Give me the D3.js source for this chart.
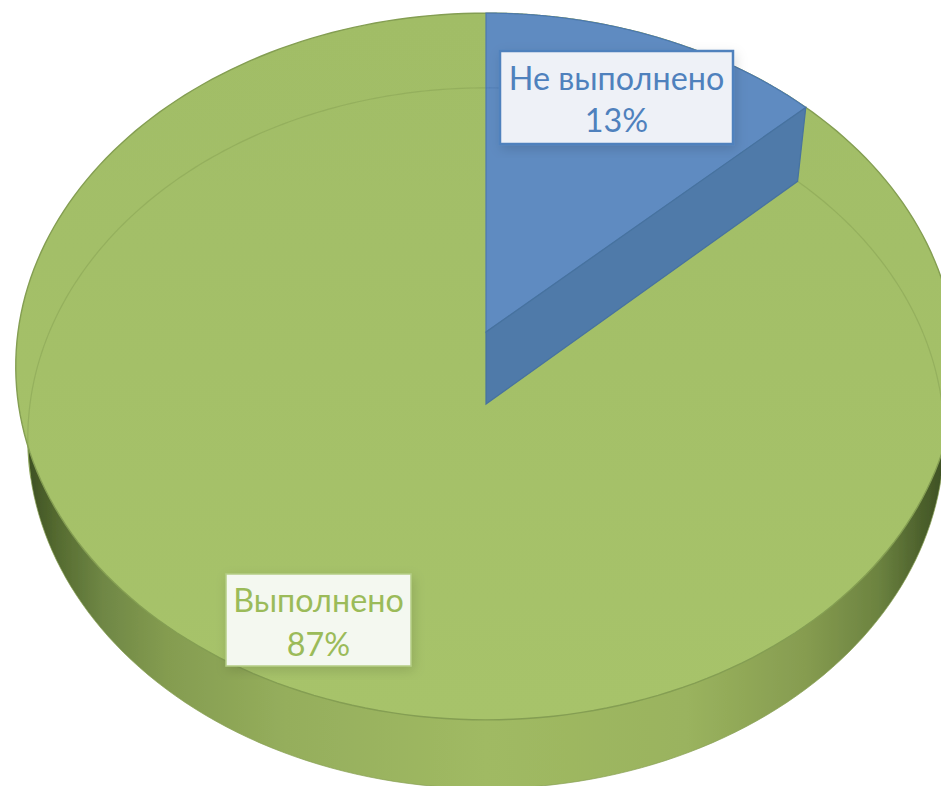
<!DOCTYPE html>
<html>
<head>
<meta charset="utf-8">
<script src="https://cdn.jsdelivr.net/npm/d3@7"></script>
<style>
  html, body { margin: 0; padding: 0; background: #fff; overflow: hidden; }
  svg { display: block; }
  text { font-family: Lato, "Open Sans", sans-serif; }
</style>
</head>
<body>
<div id="chart"></div>
<script>
const categories = ['Не выполнено', 'Выполнено'];
const values = [13, 87];
const percentLabels = ['13%', '87%'];

const width = 941;
const height = 786;
const colors = ['#5f8bc1', '#a5c168'];
const textColors = ['#4f81bd', '#9bbb59'];

const svg = d3.select('#chart').append('svg').attr('width', width).attr('height', height);
const defs = svg.append('defs');

const wall = defs.append('linearGradient').attr('id', 'wall').attr('gradientUnits', 'userSpaceOnUse')
  .attr('x1', 30).attr('x2', 942).attr('y1', 0).attr('y2', 0);
[[0, '#3f5224'], [0.03, '#556b30'], [0.08, '#6f8745'], [0.15, '#849c50'], [0.28, '#95ae5c'], [0.5, '#a0ba63'],
 [0.72, '#9ab35e'], [0.85, '#869c50'], [0.93, '#6c8340'], [0.98, '#4b5f2b'], [1, '#3f5224']].forEach(([o, c]) => {
  wall.append('stop').attr('offset', o).attr('stop-color', c);
});

const face = defs.append('linearGradient').attr('id', 'face').attr('x1', 0).attr('x2', 0).attr('y1', 0).attr('y2', 1);
face.append('stop').attr('offset', 0).attr('stop-color', '#a1bd66');
face.append('stop').attr('offset', 1).attr('stop-color', '#a7c36a');

const soft = defs.append('filter').attr('id', 'soft');
soft.append('feGaussianBlur').attr('stdDeviation', 0.6);

const shadow = defs.append('filter').attr('id', 'shadow')
  .attr('x', '-10%').attr('y', '-15%').attr('width', '120%').attr('height', '130%');
shadow.append('feDropShadow').attr('dx', 2).attr('dy', 4).attr('stdDeviation', 6)
  .attr('flood-color', '#000').attr('flood-opacity', 0.13);

// perspective projection of the pie disc, k makes the near side bigger
const k = 0.0976;
const project = (d, a) => {
  const u = Math.sin(a);
  const v = Math.cos(a);
  const w = 1 + k * v;
  return [d.cx + d.rx * u / w, d.cy - d.ry * v / w];
};
const topDisc = { cx: 486, cy: 332, rx: 468, ry: 350 };
const bottomDisc = { cx: 486, cy: 404, rx: 456, ry: 347 };

const line = d3.line();
const rim = (d, a0, a1) => d3.range(0, 241).map(i => project(d, a0 + (a1 - a0) * i / 240));
const center = d => [d.cx, d.cy];

const slices = d3.pie().sort(null).value(d => d)(values);
const tau = 2 * Math.PI;

const pie = svg.append('g').attr('filter', 'url(#soft)');

// side wall
pie.append('path').attr('d', line(rim(bottomDisc, 0, tau)) + 'Z').attr('fill', 'url(#wall)')
  .attr('stroke', '#87a052').attr('stroke-opacity', 0.7).attr('stroke-width', 1);

// top disc
pie.append('path').attr('d', line(rim(topDisc, 0, tau)) + 'Z')
  .attr('fill', 'url(#face)').attr('stroke', '#849e52').attr('stroke-width', 1.4);

// back edge of the pie seen through the green slice
pie.append('path').attr('d', line(rim(bottomDisc, -1.78, 1.78))).attr('fill', 'none')
  .attr('stroke', '#8aa556').attr('stroke-opacity', 0.6).attr('stroke-width', 1.2);

// blue slice, top face and cut wall
const s = slices[0];
pie.append('path')
  .attr('d', line([center(topDisc), ...rim(topDisc, s.startAngle, s.endAngle)]) + 'Z')
  .attr('fill', colors[0]).attr('stroke', '#4c78ae').attr('stroke-width', 1.2);
pie.append('path')
  .attr('d', line([center(topDisc), project(topDisc, s.endAngle), project(bottomDisc, s.endAngle), center(bottomDisc)]) + 'Z')
  .attr('fill', '#4f7aa9').attr('stroke', '#47729f').attr('stroke-width', 1.2);
pie.append('path').attr('d', line(rim(bottomDisc, s.startAngle, s.endAngle - 0.36))).attr('fill', 'none')
  .attr('stroke', '#4a76ab').attr('stroke-opacity', 0.5).attr('stroke-width', 1);

// data labels
const labelBoxes = [
  { x: 500, y: 51, w: 233, h: 93, stroke: '#4f81bd', fill: '#eef1f7', sw: 2.5, fs: 32.3, y1: 90, y2: 132 },
  { x: 226, y: 574, w: 185, h: 92, stroke: '#b4cd85', fill: '#f4f8f0', sw: 1.5, fs: 32.3, y1: 612, y2: 656 }
];
const labels = svg.append('g').selectAll('g').data(categories).join('g');
labels.append('rect')
  .attr('x', (_, i) => labelBoxes[i].x).attr('y', (_, i) => labelBoxes[i].y)
  .attr('width', (_, i) => labelBoxes[i].w).attr('height', (_, i) => labelBoxes[i].h)
  .attr('fill', (_, i) => labelBoxes[i].fill)
  .attr('stroke', (_, i) => labelBoxes[i].stroke).attr('stroke-width', (_, i) => labelBoxes[i].sw)
  .attr('filter', 'url(#shadow)');
labels.append('text')
  .attr('x', (_, i) => labelBoxes[i].x + labelBoxes[i].w / 2).attr('y', (_, i) => labelBoxes[i].y1)
  .attr('text-anchor', 'middle').attr('font-size', (_, i) => labelBoxes[i].fs)
  .attr('fill', (_, i) => textColors[i]).text(d => d);
labels.append('text')
  .attr('x', (_, i) => labelBoxes[i].x + labelBoxes[i].w / 2).attr('y', (_, i) => labelBoxes[i].y2)
  .attr('text-anchor', 'middle').attr('font-size', (_, i) => labelBoxes[i].fs)
  .attr('fill', (_, i) => textColors[i]).text((_, i) => percentLabels[i]);
</script>
</body>
</html>
